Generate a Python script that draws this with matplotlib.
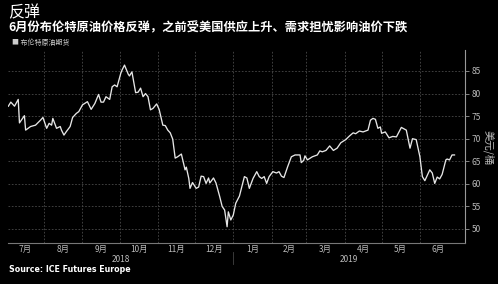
import numpy as np
import matplotlib
matplotlib.use("Agg")
from matplotlib import pyplot as plt

plt.rcParams['font.family'] = ['Noto Sans CJK SC', 'DejaVu Sans']

# days since 2018-07-01, Brent front-month settle (USD/bbl)
days = [2, 4, 7, 10, 11, 15, 16, 20, 24, 28,
        30, 33, 35, 37, 38, 41, 44, 45, 47, 49,
        52, 54, 57, 59, 62, 66, 69, 72, 75, 77,
        79, 81, 84, 86, 88, 90, 93, 94, 96, 99,
        100, 102, 105, 107, 109, 111, 113, 115, 117, 119,
        122, 124, 127, 129, 131, 133, 135, 137, 139, 142,
        145, 146, 148, 149, 151, 154, 156, 158, 160, 162,
        164, 165, 168, 170, 173, 175, 177, 179, 180, 182,
        184, 186, 189, 193, 195, 197, 200, 203, 205, 207,
        209, 211, 213, 216, 219, 221, 223, 225, 228, 231,
        234, 238, 239, 241, 242, 244, 248, 252, 254, 256,
        259, 262, 265, 268, 271, 275, 278, 281, 283, 286,
        289, 293, 295, 297, 299, 301, 303, 304, 307, 310,
        313, 316, 320, 324, 327, 329, 332, 335, 337, 339,
        343, 345, 347, 349, 351, 353, 356, 357, 359, 361,
        363]
prices = [77.2, 78.1, 77.2, 78.7, 73.5, 75.1, 71.9, 72.7, 73.0, 74.1,
          74.7, 72.3, 73.4, 73.0, 74.5, 72.3, 72.7, 71.9, 70.8, 71.6,
          72.7, 74.7, 75.6, 76.0, 77.5, 78.2, 76.5, 77.8, 79.8, 78.1,
          78.1, 79.3, 78.7, 81.5, 81.9, 81.5, 84.5, 85.2, 86.3, 84.3,
          83.9, 84.8, 80.2, 80.3, 81.2, 79.3, 80.0, 79.3, 76.4, 76.7,
          77.7, 76.5, 73.0, 72.9, 71.9, 71.3, 69.9, 65.7, 66.0, 66.6,
          63.1, 63.7, 61.2, 59.0, 60.3, 59.0, 59.3, 61.7, 61.6, 60.1,
          61.3, 60.2, 61.3, 60.2, 57.2, 55.0, 54.2, 50.5, 53.8, 52.0,
          53.1, 55.7, 57.3, 61.6, 61.3, 59.0, 61.2, 62.7, 61.6, 61.2,
          61.6, 60.1, 61.6, 62.7, 62.4, 62.7, 61.7, 61.4, 63.8, 66.0,
          66.4, 66.4, 64.7, 65.2, 66.2, 65.3, 66.0, 66.4, 67.3, 67.1,
          67.4, 68.4, 67.4, 67.9, 69.1, 69.8, 70.6, 71.3, 71.1, 71.7,
          71.5, 71.9, 74.1, 74.5, 74.3, 72.3, 72.6, 71.2, 71.5, 70.2,
          70.5, 70.4, 72.5, 71.9, 67.9, 70.0, 69.8, 66.0, 61.6, 60.7,
          63.1, 62.4, 60.1, 61.5, 61.1, 62.1, 65.3, 65.5, 65.3, 66.4,
          66.4]

month_labels = ['7月', '8月', '9月', '10月', '11月', '12月',
                '1月', '2月', '3月', '4月', '5月', '6月']
month_starts = [0, 31, 62, 92, 123, 153, 184, 215, 243, 274, 304, 335, 365]
years = ['2018', '2019']
yticks = [50, 55, 60, 65, 70, 75, 80, 85]

x0, x1 = 1.7, 371.6

fig = plt.figure(figsize=(4.98, 2.84), dpi=100, facecolor='black')
ax = fig.add_axes([0.016, 0.1444, 0.918, 0.6796], facecolor='black')

ax.plot(days, prices, color='#e6e6e6', lw=0.95, zorder=3)

ax.set_xlim(x0, x1)
ax.set_ylim(46.9, 89.65)

# grid
for m in month_starts[1:-1]:
    ax.axvline(m, color='#4a4a4a', lw=0.6, ls=(0, (2, 2)), zorder=1)
for v in yticks:
    ax.axhline(v, color='#4a4a4a', lw=0.6, ls=(0, (2, 2)), zorder=1)

for s in ['top', 'left']:
    ax.spines[s].set_visible(False)
ax.spines['bottom'].set_color('#777777')
ax.spines['bottom'].set_linewidth(0.8)
ax.spines['right'].set_color('#999999')
ax.spines['right'].set_linewidth(0.8)

ax.yaxis.tick_right()
ax.set_yticks(yticks)
ax.set_yticklabels([str(v) for v in yticks])
ax.tick_params(axis='y', colors='#999999', labelcolor='#bbbbbb', labelsize=6,
               length=3, width=0.6, pad=1.5)

mids = [(month_starts[i] + month_starts[i + 1]) / 2 for i in range(12)]
ax.set_xticks(mids)
ax.set_xticklabels(month_labels)
ax.tick_params(axis='x', length=0, colors='#bbbbbb', labelsize=6, pad=1.5)

# year labels
ax.text((x0 + 184) / 2, -0.085, years[0], transform=ax.get_xaxis_transform(),
        ha='center', va='center', color='#bbbbbb', fontsize=6)
ax.text((184 + x1) / 2, -0.085, years[1], transform=ax.get_xaxis_transform(),
        ha='center', va='center', color='#bbbbbb', fontsize=6)
ax.plot([184, 184], [-0.045, -0.11], transform=ax.get_xaxis_transform(),
        color='#444444', lw=0.6, clip_on=False)

fig.text(0.980, 0.479, '美元/桶', rotation=270, ha='center', va='center',
         color='#bbbbbb', fontsize=7.5)

fig.text(0.016, 0.955, '反弹', color='white', fontsize=11.5, ha='left', va='center')
fig.text(0.016, 0.902, '6月份布伦特原油价格反弹，之前受美国供应上升、需求担忧影响油价下跌',
         color='white', fontsize=8.8, fontweight='bold', ha='left', va='center')
fig.text(0.024, 0.850, '■ 布伦特原油期货', color='#cccccc', fontsize=5,
         ha='left', va='center')
fig.text(0.018, 0.050, 'Source: ICE Futures Europe', color='white',
         fontsize=5.7, fontweight='bold', family='DejaVu Sans', ha='left', va='center')

plt.savefig('out.png', dpi=100, facecolor='black')
